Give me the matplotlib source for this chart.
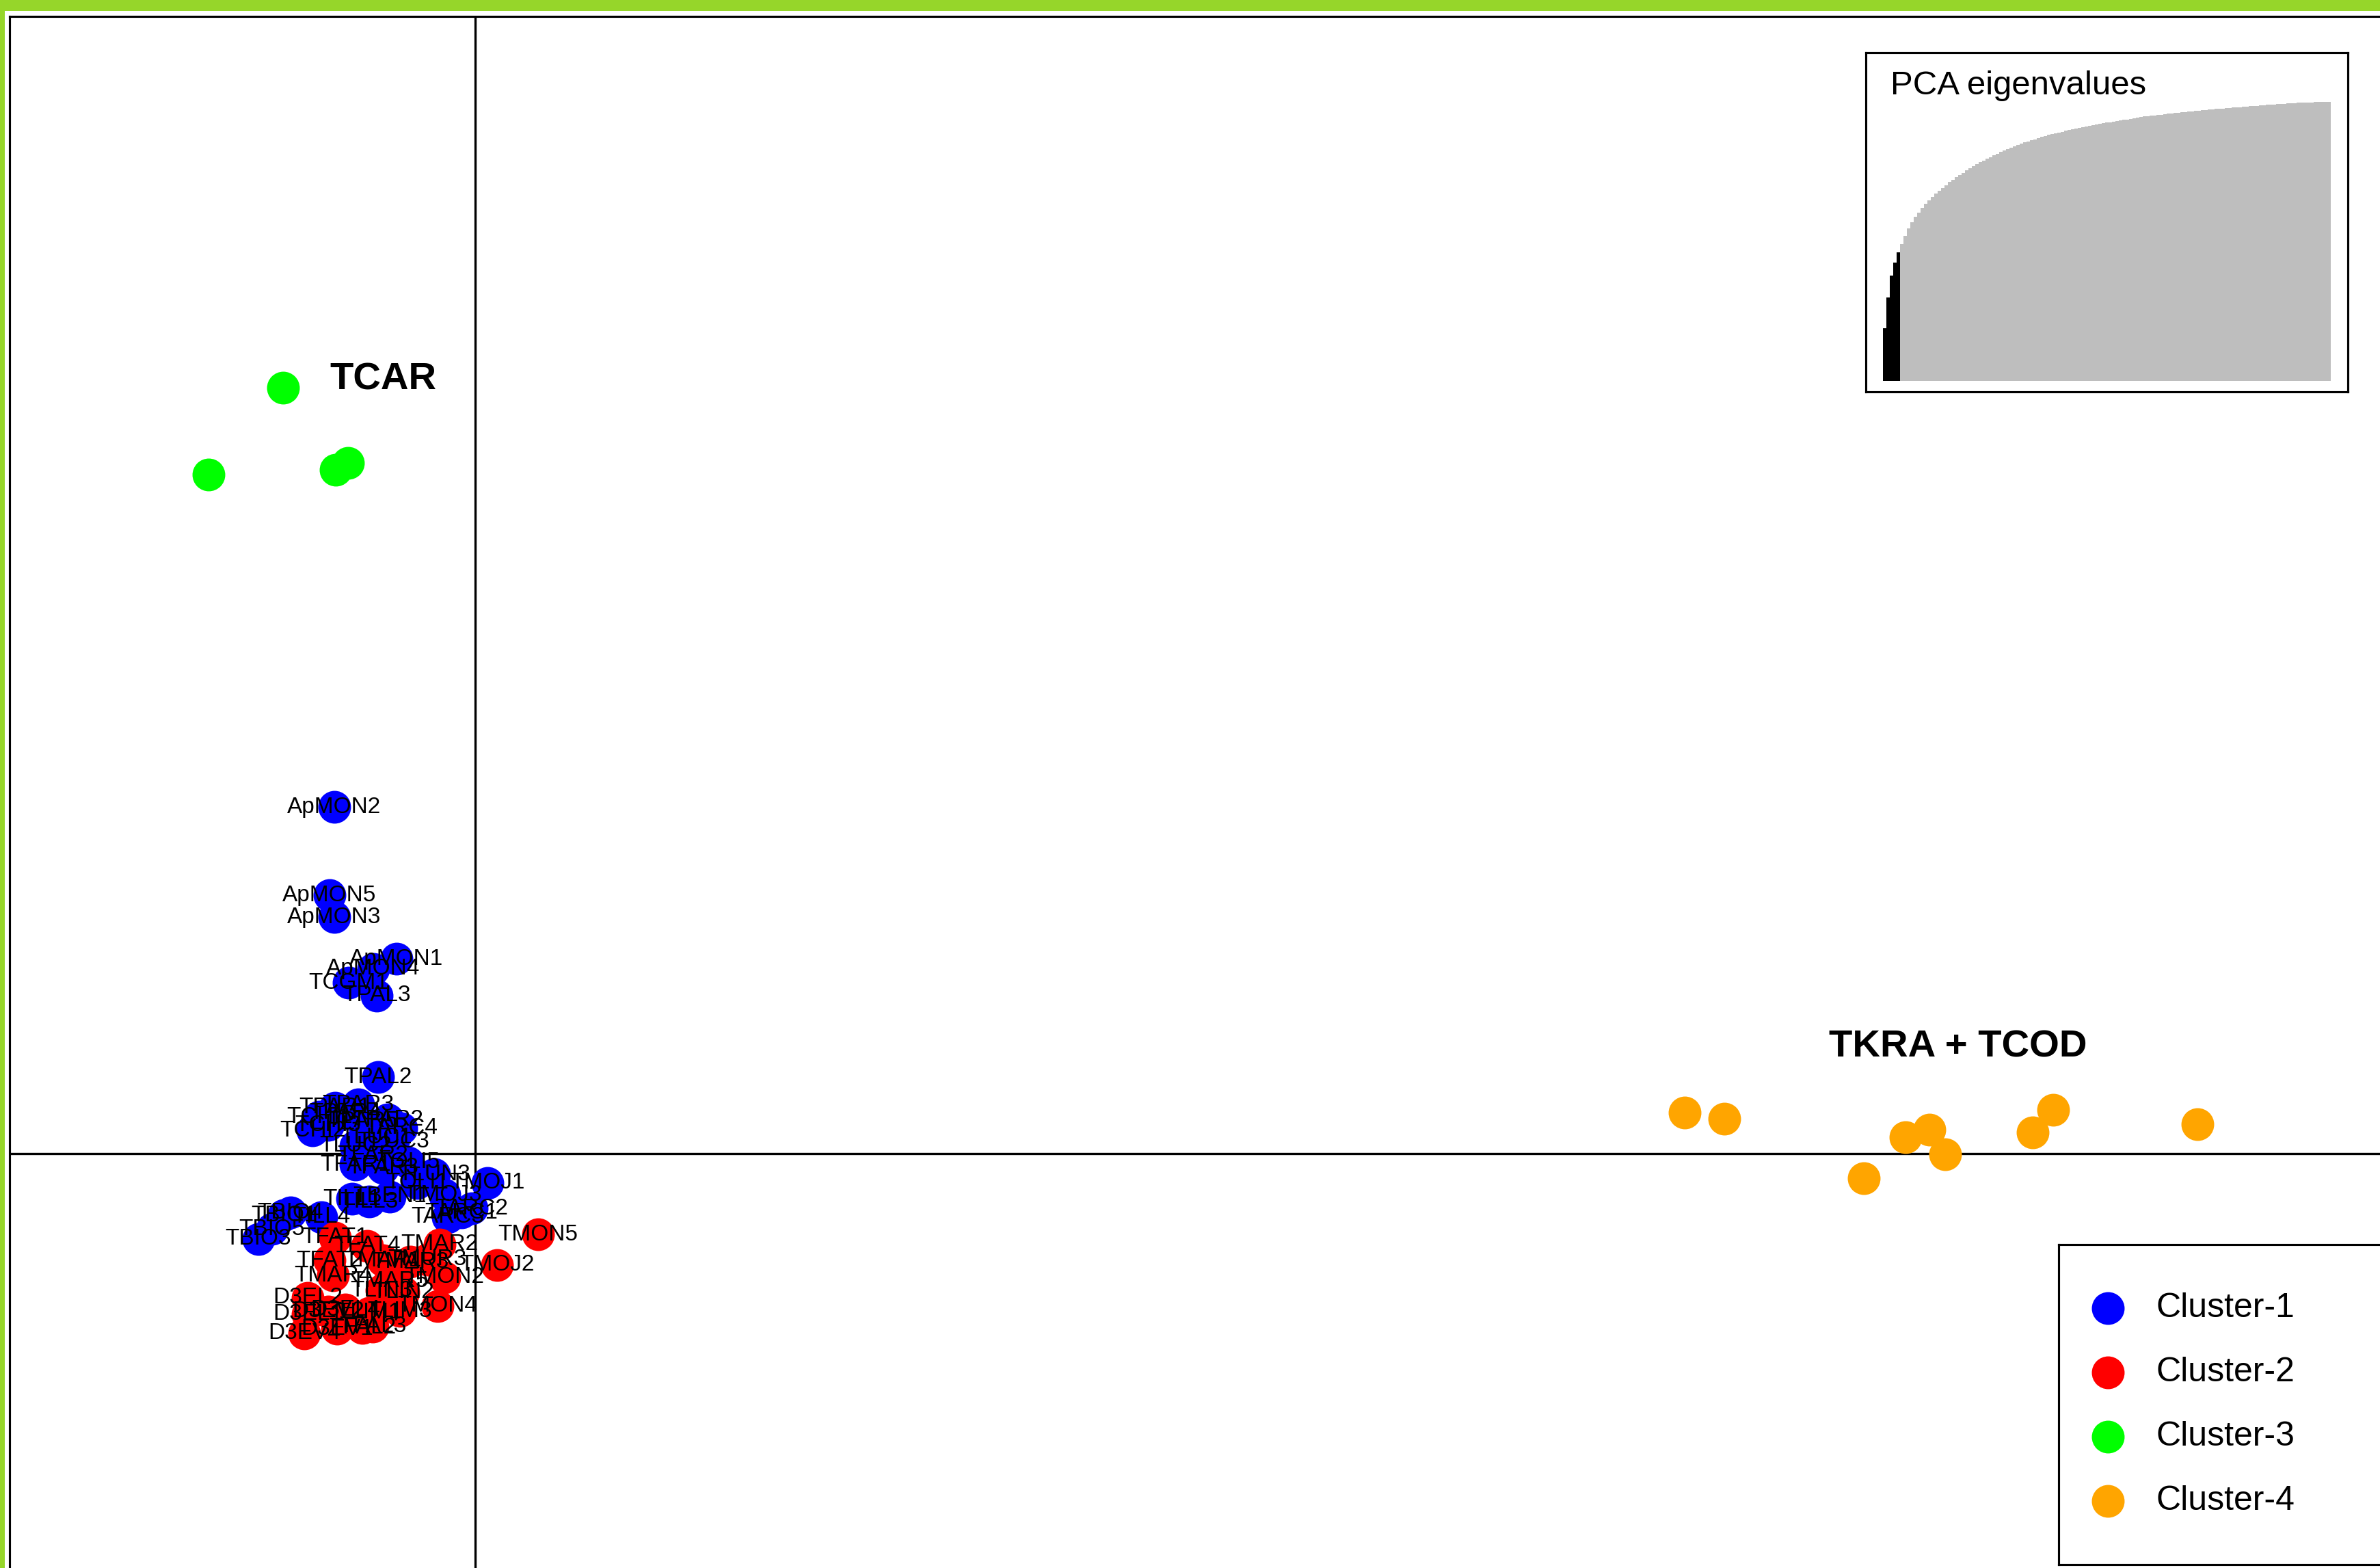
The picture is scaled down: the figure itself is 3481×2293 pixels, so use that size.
import matplotlib

matplotlib.use("Agg")
import matplotlib.pyplot as plt
from matplotlib.patches import Rectangle

plt.rcParams["font.family"] = ["Liberation Sans", "DejaVu Sans"]

W, H, DPI = 3481, 2293, 300

# ---- data ----
cluster_names = ["Cluster-1", "Cluster-2", "Cluster-3", "Cluster-4"]
cluster_colors = ["#0000ff", "#ff0000", "#00ff00", "#ffa500"]

blue_labels = [
    "ApMON2", "ApMON5", "ApMON3", "ApMON1", "ApMON4", "TCGM1", "TPAL3", "TPAL2",
    "TPAR3", "TPAR1", "TCHI1", "TCHI2", "TPAR2", "TARC4", "TLUC3", "TOLI5",
    "TFAR1", "TOLI1", "TLUN3", "TMOJ3", "TMOJ1", "TBEN1", "TILL1", "TILL3",
    "TARC2", "TARC1", "TARC3", "TBIO1", "TBIO4", "TILL4", "TBIO5", "TBIO3",
    "TPAR4", "TPAR5", "TCHI3", "TLUC1", "TLUC2", "TFAR2", "TFAR3",
]
blue_x = [
    -2.06, -2.13, -2.06, -1.15, -1.49, -1.85, -1.44, -1.42,
    -1.71, -2.05, -2.28, -2.38, -1.28, -1.08, -1.20, -0.98,
    -1.75, -0.85, -0.60, -0.45, 0.18, -1.25, -1.80, -1.55,
    -0.05, -0.20, -0.40, -2.80, -2.70, -2.25, -2.97, -3.17,
    -1.90, -1.65, -2.15, -1.45, -1.75, -1.50, -1.35,
]
blue_y = [
    5.07, 3.78, 3.46, 2.85, 2.70, 2.50, 2.31, 1.12,
    0.72, 0.67, 0.54, 0.34, 0.50, 0.37, 0.17, -0.13,
    -0.16, -0.43, -0.30, -0.60, -0.43, -0.63, -0.66, -0.70,
    -0.80, -0.86, -0.93, -0.90, -0.86, -0.93, -1.10, -1.25,
    0.59, 0.47, 0.42, 0.24, 0.11, -0.03, -0.21,
]

red_labels = [
    "TMON5", "TMOJ2", "TMAR2", "TFAT1", "TFAT4", "TFAT2", "TMAR4", "TMAR1",
    "TMAR3", "TMUR3", "TMON2", "TLIN3", "TLIN2", "TMON4", "TLIM3", "D3EL2",
    "D3EL1", "D3EV2", "D3EL4", "TLIM1", "D3EV4", "TFAL2", "TFAL3", "D3EV1",
    "TMAR5",
]
red_x = [
    0.92, 0.32, -0.52, -2.05, -1.58, -2.13, -2.08, -1.35,
    -0.95, -0.70, -0.45, -1.37, -1.05, -0.55, -1.10, -2.45,
    -2.45, -2.15, -1.90, -1.55, -2.50, -1.65, -1.50, -2.02,
    -1.25,
]
red_y = [
    -1.18, -1.63, -1.33, -1.23, -1.35, -1.56, -1.78, -1.56,
    -1.58, -1.55, -1.81, -2.00, -2.03, -2.23, -2.30, -2.11,
    -2.35, -2.31, -2.28, -2.33, -2.63, -2.55, -2.53, -2.56,
    -1.86,
]

green_x = [-2.81, -3.90, -2.04, -1.86]
green_y = [11.20, 9.93, 10.00, 10.10]

orange_x = [17.69, 18.27, 20.31, 20.92, 21.27, 21.50, 22.78, 23.08, 25.19]
orange_y = [0.60, 0.51, -0.36, 0.24, 0.35, -0.01, 0.31, 0.64, 0.43]

group_labels = ["TCAR", "TKRA + TCOD"]
group_x = [-1.35, 21.69]
group_y = [11.32, 1.55]

# eigenvalue bars (first n_kept retained axes drawn in black)
eig_cum = [
    18.9, 29.9, 37.7, 42.4, 46.1, 49.0, 52.0, 54.6, 56.8, 58.7,
    60.4, 62.0, 63.4, 64.7, 65.9, 67.1, 68.2, 69.2, 70.2, 71.2,
    72.1, 73.0, 73.8, 74.6, 75.4, 76.2, 76.9, 77.6, 78.3, 79.0,
    79.6, 80.2, 80.8, 81.4, 82.0, 82.5, 83.0, 83.5, 84.0, 84.5,
    85.0, 85.4, 85.8, 86.2, 86.6, 87.0, 87.4, 87.8, 88.1, 88.4,
    88.7, 89.0, 89.3, 89.6, 89.9, 90.2, 90.5, 90.7, 91.0, 91.2,
    91.5, 91.7, 91.9, 92.1, 92.3, 92.5, 92.7, 92.9, 93.1, 93.3,
    93.5, 93.7, 93.9, 94.1, 94.3, 94.5, 94.7, 94.8, 95.0, 95.1,
    95.3, 95.4, 95.6, 95.7, 95.9, 96.0, 96.1, 96.3, 96.4, 96.5,
    96.6, 96.8, 96.9, 97.0, 97.1, 97.2, 97.3, 97.4, 97.5, 97.6,
    97.7, 97.8, 97.9, 98.0, 98.1, 98.2, 98.3, 98.4, 98.5, 98.6,
    98.7, 98.8, 98.9, 99.0, 99.1, 99.2, 99.3, 99.3, 99.4, 99.5,
    99.5, 99.6, 99.7, 99.7, 99.8, 99.8, 99.9, 99.9, 100.0, 100.0,
    100.0,
]
n_kept = 5

# ---- figure ----
fig = plt.figure(figsize=(W / DPI, H / DPI), dpi=DPI)
fig.patch.set_facecolor("white")

ax = fig.add_axes([14 / W, 0, (W - 14) / W, 1 - 23.5 / H])
ax.set_xlim(-6.81, 27.86)
ax.set_ylim(-6.06, 16.635)
ax.set_xticks([])
ax.set_yticks([])
for side in ("right", "bottom"):
    ax.spines[side].set_visible(False)
for side in ("left", "top"):
    ax.spines[side].set_linewidth(0.75)

ax.axhline(0, color="black", lw=0.8, zorder=1)
ax.axvline(0, color="black", lw=0.8, zorder=1)

ms = 11.5
ax.plot(blue_x, blue_y, "o", ls="none", ms=ms, mfc=cluster_colors[0], mec="none", zorder=2)
ax.plot(red_x, red_y, "o", ls="none", ms=ms, mfc=cluster_colors[1], mec="none", zorder=2)
ax.plot(green_x, green_y, "o", ls="none", ms=ms, mfc=cluster_colors[2], mec="none", zorder=2)
ax.plot(orange_x, orange_y, "o", ls="none", ms=ms, mfc=cluster_colors[3], mec="none", zorder=2)

for lab, x, y in zip(blue_labels + red_labels, blue_x + red_x, blue_y + red_y):
    ax.text(x, y, lab, fontsize=8.0, ha="center", va="center", zorder=4)

for lab, x, y in zip(group_labels, group_x, group_y):
    ax.text(x, y, lab, fontsize=13.5, fontweight="bold", ha="center", va="center", zorder=4)

# eigenvalue inset
ins = fig.add_axes([2729 / W, 1 - 573 / H, 705 / W, 496 / H])
bar_colors = ["black"] * n_kept + ["#bebebe"] * (len(eig_cum) - n_kept)
ins.bar(range(len(eig_cum)), eig_cum, width=1.0, color=bar_colors, linewidth=0)
ins.set_xlim(-5.5, 135.5)
ins.set_ylim(-3.9, 117.6)
ins.set_xticks([])
ins.set_yticks([])
for sp in ins.spines.values():
    sp.set_linewidth(0.75)
ins.text(0.051, 0.877, "PCA eigenvalues", transform=ins.transAxes,
         fontsize=11.8, ha="left", va="baseline")

# legend box
leg = fig.add_axes([3011 / W, 5 / H, (W - 3011) / W, (2288 - 1820) / H])
leg.set_xlim(0, W - 3011)
leg.set_ylim(2288 - 1820, 0)
leg.set_xticks([])
leg.set_yticks([])
leg.spines["right"].set_visible(False)
for side in ("left", "top", "bottom"):
    leg.spines[side].set_linewidth(0.75)
for i, (name, col) in enumerate(zip(cluster_names, cluster_colors)):
    yy = 93 + 94 * i
    leg.plot([72], [yy], "o", ms=ms, mfc=col, mec="none")
    leg.text(142, yy, name, fontsize=12, ha="left", va="center")

# green frame around the page
fig.add_artist(Rectangle((0, 1 - 16 / H), 1, 16 / H, transform=fig.transFigure,
                         facecolor="#96d62a", edgecolor="none", zorder=10))
fig.add_artist(Rectangle((0, 0), 7 / W, 1, transform=fig.transFigure,
                         facecolor="#96d62a", edgecolor="none", zorder=10))

fig.savefig("out.png", dpi=DPI)
